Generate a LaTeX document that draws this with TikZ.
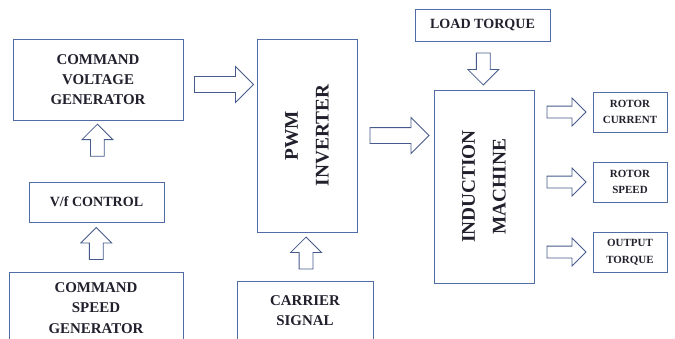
\documentclass[tikz,border=0pt]{standalone}
\usepackage{fontspec}
\setmainfont{Liberation Serif}
\usetikzlibrary{calc,positioning,shapes.arrows}
\definecolor{boxblue}{RGB}{80,108,165}
\definecolor{arrowblue}{RGB}{70,90,140}
\definecolor{inkdark}{RGB}{35,32,45}
\tikzset{
  block/.style={
    rectangle,
    draw=boxblue, line width=1pt,
    fill=white,
    text=inkdark,
    font=\bfseries\fontsize{17}{23}\selectfont,
    align=center,
    inner sep=2pt},
  smallblock/.style={
    block,
    font=\bfseries\fontsize{12.5}{19}\selectfont,
    minimum width=2.96cm, minimum height=1.6cm},
  vtext/.style={
    rotate=90,
    text=inkdark,
    font=\bfseries\fontsize{22}{35}\selectfont,
    align=center},
  bigarrow/.style={
    single arrow,
    draw=arrowblue, line width=0.9pt,
    fill=white,
    single arrow tip angle=90,
    single arrow head indent=0pt,
    single arrow head extend=0.4cm,
    inner xsep=0pt, inner ysep=0.3cm,
    minimum height=2.36cm},
  smallarrow/.style={
    bigarrow,
    single arrow head extend=0.34cm,
    inner ysep=0.26cm,
    minimum height=1.28cm},
  outarrow/.style={
    bigarrow,
    single arrow head extend=0.32cm,
    inner ysep=0.22cm,
    minimum height=1.56cm},
}
\begin{document}
\begin{tikzpicture}[x=0.04cm, y=-0.04cm]
  \useasboundingbox (0,0) rectangle (675,339);
  \clip (0,0) rectangle (675,339);

  % left column
  \node[block, minimum width=6.8cm, minimum height=3.24cm] (cvg) at (98,79.5)
    {COMMAND\\VOLTAGE\\GENERATOR};
  \node[block, font=\bfseries\fontsize{16}{20}\selectfont,
    minimum width=5.4cm, minimum height=1.6cm] (vf) at (96.5,202) {V/f CONTROL};
  \node[block, minimum width=6.96cm, minimum height=2.88cm] (csg) at (96,308)
    {COMMAND\\SPEED\\GENERATOR};

  % inverter
  \node[block, minimum width=4cm, minimum height=7.72cm] (pwm) at (307,135.5) {};
  \node[vtext] (pwmlabel) at (pwm.center) {PWM\\INVERTER};
  \node[block, minimum width=5.44cm, minimum height=2.4cm] (carrier) at (305,311)
    {CARRIER\\SIGNAL};

  % machine
  \node[block, font=\bfseries\fontsize{16}{20}\selectfont,
    minimum width=5.4cm, minimum height=1.28cm] (load) at (482.5,25) {LOAD TORQUE};
  \node[block, minimum width=4cm, minimum height=7.72cm] (im) at (484,186.5) {};
  \node[vtext] (imlabel) at (im.center) {INDUCTION\\MACHINE};

  % outputs
  \node[smallblock] (rc) at (630,112) {ROTOR\\CURRENT};
  \node[smallblock] (rs) at (630,182) {ROTOR\\SPEED};
  \node[smallblock] (ot) at (630,252) {OUTPUT\\TORQUE};

  % block arrows
  \node[smallarrow, rotate=90] (a1) at ($(vf.north)!0.62!(cvg.south)$) {};
  \node[smallarrow, rotate=90] (a2) at ($(csg.north)!0.5!(vf.south)$) {};
  \node[bigarrow] (a3) at ($(cvg.east)!0.5!(pwm.west |- cvg.east)+(0,5)$) {};
  \node[smallarrow, rotate=90] (a4) at ($(carrier.north)!0.5!(pwm.south)$) {};
  \node[bigarrow] (a5) at ($(pwm.east)!0.5!(im.west |- pwm.east)$) {};
  \node[smallarrow, rotate=-90] (a6) at ($(load.south)!0.5!(im.north)$) {};
  \foreach \o in {rc,rs,ot}
    \node[outarrow] (a-\o) at ($(im.east |- \o.west)!0.5!(\o.west)$) {};
\end{tikzpicture}
\end{document}
